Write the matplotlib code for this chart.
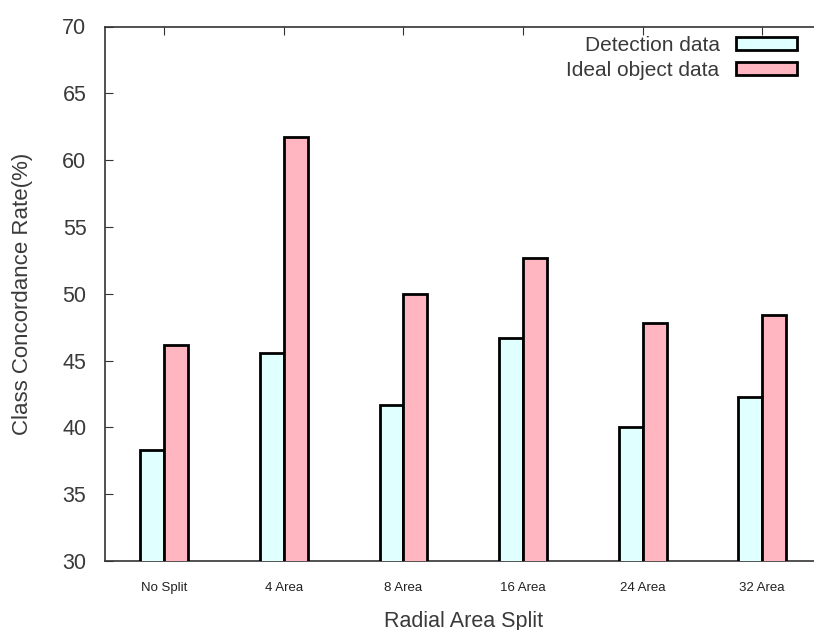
import matplotlib
matplotlib.use("Agg")
import matplotlib.pyplot as plt
import numpy as np

categories = ["No Split", "4 Area", "8 Area", "16 Area", "24 Area", "32 Area"]
detection = [38.3, 45.6, 41.7, 46.7, 40.0, 42.3]
ideal = [46.2, 61.7, 50.0, 52.7, 47.8, 48.4]
yticks = [30, 35, 40, 45, 50, 55, 60, 65, 70]

plt.rcParams['font.family'] = ['Liberation Sans', 'DejaVu Sans']

fig = plt.figure(figsize=(8.14, 6.30), dpi=100)
W, H = 814, 630
left, right, top, bottom = 104.5, 822, 26.5, 561
ax = fig.add_axes([left / W, 1 - bottom / H, (right - left) / W, (bottom - top) / H])

x = np.arange(len(categories))
w = 0.2
ax.bar(x - w / 2, detection, w, color='#E0FFFF', edgecolor='black', linewidth=2,
       label='Detection data', zorder=3)
ax.bar(x + w / 2, ideal, w, color='#FFB6C1', edgecolor='black', linewidth=2,
       label='Ideal object data', zorder=3)

ax.set_xlim(-0.5, len(categories) - 0.5)
ax.set_ylim(30, 70)
ax.set_yticks(yticks)
ax.set_xticks(x)
ax.set_xticklabels(categories, fontsize=9.5, color='#222222')
ax.tick_params(axis='y', labelsize=15.5, labelcolor='#3a3a3a', direction='in', length=6,
               right=False, pad=13, color='#333333')
ax.tick_params(axis='x', direction='in', length=6, top=True, pad=15, color='#333333')
for s in ax.spines.values():
    s.set_color('#333333')
    s.set_linewidth(1.2)

ax.set_ylabel('Class Concordance Rate(%)', fontsize=16, color='#3a3a3a', labelpad=21)
ax.set_xlabel('Radial Area Split', fontsize=15.5, color='#3a3a3a', labelpad=12)

leg = ax.legend(loc='upper right', bbox_to_anchor=((806 - left) / (right - left), 1.0),
                frameon=False, fontsize=15, markerfirst=False, handlelength=2.9,
                handleheight=0.55, handletextpad=0.8, labelspacing=0.3,
                borderaxespad=0.05)
for t in leg.get_texts():
    t.set_color('#3a3a3a')

fig.savefig('out.png', dpi=100)
